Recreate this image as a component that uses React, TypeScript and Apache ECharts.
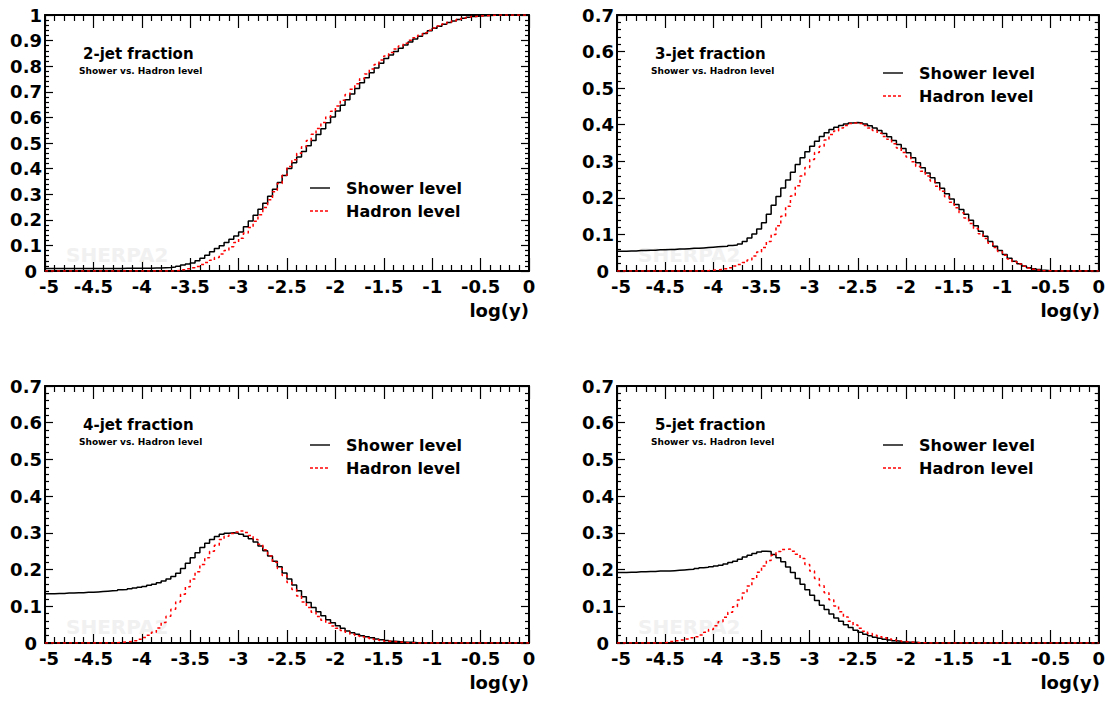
import React, { useEffect, useRef } from "react";
import * as echarts from "echarts";

// ---- data: 100 bins of width 0.05 in log(y), from -5 to 0 ----
const BIN_START = -5;
const BIN_WIDTH = 0.05;
const X_TICKS = ["-5", "-4.5", "-4", "-3.5", "-3", "-2.5", "-2", "-1.5", "-1", "-0.5", "0"];
const PANEL_TITLES = ["2-jet fraction", "3-jet fraction", "4-jet fraction", "5-jet fraction"];
const SUBTITLE = "Shower vs. Hadron level";
const SERIES_NAMES = ["Shower level", "Hadron level"];
const Y_MAX = [1, 0.7, 0.7, 0.7];

const twoJetShower = [
  0.010, 0.010, 0.010, 0.010, 0.010, 0.010, 0.010, 0.010, 0.010, 0.010,
  0.010, 0.010, 0.010, 0.010, 0.010, 0.010, 0.011, 0.011, 0.011, 0.011,
  0.011, 0.011, 0.012, 0.012, 0.013, 0.014, 0.016, 0.019, 0.023, 0.027,
  0.031, 0.040, 0.050, 0.062, 0.075, 0.088, 0.099, 0.111, 0.124, 0.137,
  0.152, 0.173, 0.195, 0.218, 0.241, 0.265, 0.292, 0.319, 0.346, 0.373,
  0.400, 0.423, 0.445, 0.467, 0.489, 0.510, 0.533, 0.556, 0.579, 0.602,
  0.625, 0.647, 0.669, 0.691, 0.713, 0.735, 0.755, 0.774, 0.793, 0.812,
  0.830, 0.844, 0.857, 0.870, 0.883, 0.895, 0.906, 0.917, 0.928, 0.938,
  0.948, 0.956, 0.964, 0.971, 0.977, 0.982, 0.987, 0.991, 0.994, 0.996,
  0.997, 0.998, 0.999, 1.000, 1.000, 1.000, 1.000, 1.000, 1.000, 1.000,
];
const twoJetHadron = [
  0, 0, 0, 0, 0, 0, 0, 0, 0, 0,
  0, 0, 0, 0, 0, 0, 0, 0, 0, 0,
  0, 0, 0, 0, 0, 0, 0, 0.002, 0.005, 0.009,
  0.013, 0.018, 0.025, 0.033, 0.042, 0.053, 0.066, 0.080, 0.095, 0.111,
  0.128, 0.148, 0.170, 0.194, 0.220, 0.248, 0.278, 0.310, 0.342, 0.374,
  0.408, 0.435, 0.460, 0.485, 0.510, 0.534, 0.557, 0.580, 0.602, 0.624,
  0.645, 0.667, 0.689, 0.710, 0.731, 0.751, 0.770, 0.789, 0.807, 0.824,
  0.840, 0.854, 0.867, 0.879, 0.890, 0.901, 0.911, 0.921, 0.931, 0.940,
  0.949, 0.957, 0.965, 0.972, 0.978, 0.983, 0.988, 0.991, 0.994, 0.996,
  0.997, 0.998, 0.999, 1.000, 1.000, 1.000, 1.000, 1.000, 1.000, 1.000,
];
const threeJetShower = [
  0.054, 0.054, 0.055, 0.055, 0.056, 0.056, 0.057, 0.057, 0.058, 0.058,
  0.059, 0.059, 0.060, 0.060, 0.061, 0.062, 0.062, 0.063, 0.064, 0.065,
  0.066, 0.067, 0.068, 0.070, 0.071, 0.074, 0.081, 0.090, 0.101, 0.115,
  0.132, 0.155, 0.180, 0.204, 0.227, 0.249, 0.270, 0.291, 0.310, 0.326,
  0.341, 0.355, 0.368, 0.378, 0.387, 0.393, 0.398, 0.402, 0.405, 0.406,
  0.405, 0.402, 0.397, 0.391, 0.384, 0.376, 0.367, 0.357, 0.346, 0.335,
  0.323, 0.310, 0.296, 0.282, 0.268, 0.255, 0.241, 0.226, 0.211, 0.197,
  0.182, 0.168, 0.155, 0.139, 0.124, 0.109, 0.095, 0.081, 0.068, 0.056,
  0.045, 0.035, 0.027, 0.020, 0.014, 0.009, 0.006, 0.004, 0.002, 0.001,
  0, 0, 0, 0, 0, 0, 0, 0, 0, 0,
];
const threeJetHadron = [
  0, 0, 0, 0, 0, 0, 0, 0, 0, 0,
  0, 0, 0, 0, 0, 0, 0, 0, 0.001, 0.002,
  0.003, 0.004, 0.006, 0.009, 0.014, 0.018, 0.023, 0.030, 0.041, 0.052,
  0.064, 0.081, 0.100, 0.124, 0.150, 0.177, 0.205, 0.233, 0.260, 0.283,
  0.305, 0.324, 0.341, 0.358, 0.373, 0.383, 0.391, 0.398, 0.403, 0.405,
  0.403, 0.398, 0.391, 0.384, 0.377, 0.368, 0.360, 0.348, 0.336, 0.324,
  0.312, 0.299, 0.286, 0.273, 0.260, 0.246, 0.232, 0.218, 0.203, 0.188,
  0.173, 0.159, 0.145, 0.130, 0.116, 0.102, 0.089, 0.076, 0.064, 0.053,
  0.043, 0.033, 0.025, 0.019, 0.013, 0.008, 0.005, 0.003, 0.001, 0.001,
  0, 0, 0, 0, 0, 0, 0, 0, 0, 0,
];
const fourJetShower = [
  0.134, 0.134, 0.135, 0.135, 0.136, 0.136, 0.137, 0.137, 0.138, 0.138,
  0.139, 0.140, 0.141, 0.142, 0.143, 0.145, 0.146, 0.148, 0.150, 0.152,
  0.154, 0.157, 0.160, 0.164, 0.169, 0.174, 0.181, 0.190, 0.203, 0.217,
  0.232, 0.246, 0.260, 0.272, 0.282, 0.290, 0.296, 0.299, 0.300, 0.299,
  0.296, 0.291, 0.284, 0.275, 0.264, 0.251, 0.237, 0.223, 0.208, 0.191,
  0.174, 0.158, 0.142, 0.126, 0.110, 0.097, 0.085, 0.074, 0.063, 0.055,
  0.047, 0.040, 0.033, 0.028, 0.024, 0.020, 0.017, 0.014, 0.011, 0.009,
  0.007, 0.005, 0.004, 0.003, 0.002, 0.002, 0.001, 0.001, 0, 0,
  0, 0, 0, 0, 0, 0, 0, 0, 0, 0,
  0, 0, 0, 0, 0, 0, 0, 0, 0, 0,
];
const fourJetHadron = [
  0, 0, 0, 0, 0, 0, 0, 0, 0, 0,
  0, 0, 0, 0, 0.001, 0.002, 0.003, 0.004, 0.006, 0.010,
  0.015, 0.021, 0.029, 0.041, 0.056, 0.073, 0.092, 0.112, 0.133, 0.153,
  0.174, 0.194, 0.214, 0.232, 0.250, 0.266, 0.282, 0.291, 0.298, 0.302,
  0.305, 0.301, 0.293, 0.282, 0.269, 0.254, 0.237, 0.220, 0.203, 0.184,
  0.165, 0.146, 0.128, 0.112, 0.097, 0.084, 0.072, 0.062, 0.054, 0.046,
  0.040, 0.034, 0.029, 0.024, 0.020, 0.017, 0.014, 0.011, 0.009, 0.007,
  0.005, 0.004, 0.003, 0.002, 0.001, 0.001, 0, 0, 0, 0,
  0, 0, 0, 0, 0, 0, 0, 0, 0, 0,
  0, 0, 0, 0, 0, 0, 0, 0, 0, 0,
];
const fiveJetShower = [
  0.192, 0.192, 0.193, 0.193, 0.194, 0.194, 0.195, 0.195, 0.196, 0.196,
  0.196, 0.197, 0.198, 0.199, 0.200, 0.201, 0.203, 0.205, 0.206, 0.208,
  0.210, 0.212, 0.215, 0.219, 0.223, 0.228, 0.234, 0.239, 0.244, 0.248,
  0.250, 0.249, 0.241, 0.232, 0.221, 0.207, 0.192, 0.176, 0.160, 0.145,
  0.130, 0.116, 0.103, 0.091, 0.079, 0.068, 0.059, 0.050, 0.042, 0.035,
  0.029, 0.024, 0.020, 0.016, 0.013, 0.010, 0.008, 0.006, 0.005, 0.003,
  0.002, 0.002, 0.001, 0.001, 0, 0, 0, 0, 0, 0,
  0, 0, 0, 0, 0, 0, 0, 0, 0, 0,
  0, 0, 0, 0, 0, 0, 0, 0, 0, 0,
  0, 0, 0, 0, 0, 0, 0, 0, 0, 0,
];
const fiveJetHadron = [
  0, 0, 0, 0, 0, 0, 0, 0, 0, 0.001,
  0.002, 0.004, 0.006, 0.008, 0.011, 0.014, 0.017, 0.022, 0.029, 0.037,
  0.047, 0.058, 0.070, 0.084, 0.099, 0.117, 0.136, 0.155, 0.175, 0.193,
  0.210, 0.225, 0.239, 0.249, 0.255, 0.256, 0.250, 0.242, 0.230, 0.214,
  0.196, 0.176, 0.156, 0.137, 0.118, 0.101, 0.085, 0.071, 0.059, 0.049,
  0.040, 0.032, 0.026, 0.021, 0.017, 0.014, 0.011, 0.008, 0.006, 0.004,
  0.003, 0.002, 0.001, 0.001, 0, 0, 0, 0, 0, 0,
  0, 0, 0, 0, 0, 0, 0, 0, 0, 0,
  0, 0, 0, 0, 0, 0, 0, 0, 0, 0,
  0, 0, 0, 0, 0, 0, 0, 0, 0, 0,
];

const PANEL_DATA = [
  [twoJetShower, twoJetHadron],
  [threeJetShower, threeJetHadron],
  [fourJetShower, fourJetHadron],
  [fiveJetShower, fiveJetHadron],
];

// ---- layout ----
const FONT = "DejaVu Sans";
const GRIDS = [
  { left: 45, top: 15, width: 484, height: 256 },
  { left: 617, top: 15, width: 483, height: 256 },
  { left: 45, top: 386, width: 484, height: 257 },
  { left: 617, top: 386, width: 483, height: 257 },
];
const LEGEND_POS = [
  { left: 310, top: 179 },
  { left: 883, top: 64 },
  { left: 310, top: 436 },
  { left: 883, top: 436 },
];
const SOLID_ICON = "path://M0,0h20v1.4h-20z";
const DASHED_ICON =
  "path://M0,0h3v1.4h-3z M5,0h3v1.4h-3z M10,0h3v1.4h-3z M15,0h3v1.4h-3z M20,0h0.01v1.4h-0.01z";

const LABEL_FONT = { fontFamily: FONT, fontWeight: "bold", fontSize: 18, lineHeight: 14, color: "#000" };

function histSteps(vals: number[]) {
  const pts: number[][] = vals.map((v, i) => [BIN_START + i * BIN_WIDTH, v]);
  pts.push([0, vals[vals.length - 1]]);
  return pts;
}

export default function App() {
  const ref = useRef<HTMLDivElement>(null);
  useEffect(() => {
    if (!ref.current) return;
    const chart = echarts.init(ref.current, undefined, { renderer: "svg" });

    const xAxis: any[] = [];
    const yAxis: any[] = [];
    const series: any[] = [];
    const title: any[] = [];
    const legend: any[] = [];
    const graphic: any[] = [];

    GRIDS.forEach((g, gi) => {
      const baseX = {
        type: "value",
        gridIndex: gi,
        min: -5,
        max: 0,
        interval: 0.5,
        splitLine: { show: false },
        axisLine: { show: true, onZero: false, lineStyle: { color: "#000", width: 2 } },
        axisTick: { show: true, inside: true, length: 13, lineStyle: { color: "#000", width: 1.2 } },
        minorTick: { show: true, splitNumber: 5, length: 6, lineStyle: { color: "#000", width: 1.2 } },
        minorSplitLine: { show: false },
      };
      xAxis.push({
        ...baseX,
        position: "bottom",
        axisLabel: {
          show: true,
          margin: 8,
          ...LABEL_FONT,
          formatter: (v: number) => {
            const i = Math.round((v + 5) / 0.5);
            const s = X_TICKS[i] ?? String(v);
            return i === 0 ? `{m|${s}}` : s;
          },
          rich: { m: { ...LABEL_FONT, padding: [0, 0, 0, 8] } },
        },
      });
      xAxis.push({ ...baseX, position: "top", axisLabel: { show: false } });

      const baseY = {
        type: "value",
        gridIndex: gi,
        min: 0,
        max: Y_MAX[gi],
        interval: 0.1,
        splitLine: { show: false },
        axisLine: { show: true, onZero: false, lineStyle: { color: "#000", width: 2 } },
        axisTick: { show: true, inside: true, length: 8, lineStyle: { color: "#000", width: 1.2 } },
        minorTick: { show: true, splitNumber: 5, length: 4, lineStyle: { color: "#000", width: 1.2 } },
        minorSplitLine: { show: false },
      };
      yAxis.push({
        ...baseY,
        position: "left",
        axisLabel: {
          show: true,
          margin: 3,
          ...LABEL_FONT,
          formatter: (v: number) => {
            const s = String(Number(v.toFixed(2)));
            return v === 0 ? `{z|${s}}` : s;
          },
          rich: { z: { ...LABEL_FONT, padding: [0, 5, 0, 0] } },
        },
      });
      yAxis.push({ ...baseY, position: "right", axisLabel: { show: false } });

      const [shower, hadron] = PANEL_DATA[gi];
      series.push({
        name: SERIES_NAMES[0],
        type: "line",
        xAxisIndex: gi * 2,
        yAxisIndex: gi * 2,
        step: "end",
        symbol: "none",
        showSymbol: false,
        data: histSteps(shower),
        lineStyle: { color: "#000", width: 1.5 },
        itemStyle: { color: "#000" },
        z: 3,
      });
      series.push({
        name: SERIES_NAMES[1],
        type: "line",
        xAxisIndex: gi * 2,
        yAxisIndex: gi * 2,
        step: "end",
        symbol: "none",
        showSymbol: false,
        data: histSteps(hadron),
        lineStyle: { color: "#ff0000", width: 1.5, type: [3, 3] },
        itemStyle: { color: "#ff0000" },
        z: 4,
      });

      title.push({
        text: PANEL_TITLES[gi],
        left: g.left + 38,
        top: g.top + 31,
        padding: 0,
        textStyle: { fontFamily: FONT, fontWeight: "bold", fontSize: 15, color: "#000" },
      });
      title.push({
        text: SUBTITLE,
        left: g.left + 34,
        top: g.top + 51,
        padding: 0,
        textStyle: { fontFamily: FONT, fontWeight: "bold", fontSize: 9, color: "#000" },
      });

      legend.push({
        left: LEGEND_POS[gi].left,
        top: LEGEND_POS[gi].top,
        orient: "vertical",
        itemGap: 5,
        itemWidth: 20,
        itemHeight: 14,
        padding: 0,
        selectedMode: false,
        data: [
          { name: SERIES_NAMES[0], icon: SOLID_ICON, itemStyle: { color: "#000" } },
          { name: SERIES_NAMES[1], icon: DASHED_ICON, itemStyle: { color: "#ff0000" } },
        ],
        textStyle: {
          fontFamily: FONT,
          fontWeight: "bold",
          fontSize: 16,
          color: "#000",
          lineHeight: 18,
          padding: [0, 0, 0, 11],
        },
      });

      graphic.push({
        type: "text",
        left: g.left + 21,
        top: g.top + g.height - 26,
        z: 1,
        silent: true,
        style: {
          text: "SHERPA2",
          fontFamily: FONT,
          fontWeight: "bold",
          fontSize: 20,
          fill: "#f1f1f1",
        },
      });
      graphic.push({
        type: "text",
        x: g.left + g.width,
        y: g.top + g.height + 39,
        silent: true,
        style: {
          text: "log(y)",
          fontFamily: FONT,
          fontWeight: "bold",
          fontSize: 18,
          fill: "#000",
          align: "right",
          verticalAlign: "middle",
        },
      });
    });

    chart.setOption({
      animation: false,
      backgroundColor: "#fff",
      grid: GRIDS.map((g) => ({ ...g, containLabel: false, show: false })),
      xAxis,
      yAxis,
      series,
      title,
      legend,
      graphic,
    });
    return () => chart.dispose();
  }, []);
  return (
    <div
      ref={ref}
      style={{ position: "absolute", left: 0, top: 0, width: 1108, height: 703 }}
    />
  );
}
